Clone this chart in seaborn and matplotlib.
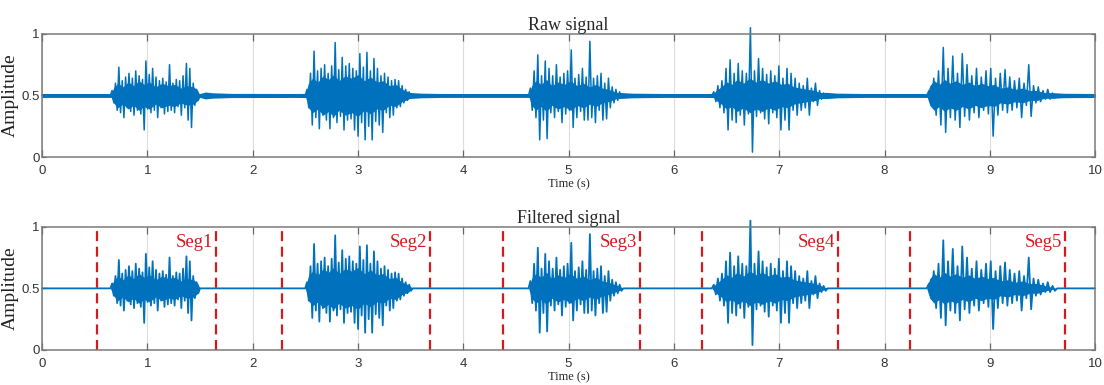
import numpy as np
import pandas as pd
import matplotlib
matplotlib.use("Agg")
import matplotlib.pyplot as plt
import seaborn as sns

# -------------- Data -----------------------------------------

baseline = 0.5

# burst windows in seconds
burst_start = [0.65, 2.50, 4.62, 6.36, 8.40]
burst_end = [1.50, 3.52, 5.52, 7.46, 9.64]

# signed deviations from the 0.5 baseline, left to right (the spikes)
burst1 = [0.04, -0.06, 0.10, -0.12, 0.23, -0.14, 0.12, -0.18, 0.15, -0.10, 0.18, -0.13, 0.14,
          -0.16, 0.20, -0.12, 0.16, -0.15, 0.13, -0.28, 0.28, -0.11, 0.17, -0.14, 0.22, -0.12,
          0.15, -0.18, 0.12, -0.10, 0.14, -0.15, 0.11, -0.13, 0.25, -0.12, 0.10, -0.14, 0.13,
          -0.09, 0.12, -0.16, 0.16, -0.10, 0.26, -0.20, 0.22, -0.26, 0.10, -0.08, 0.05, -0.04]
burst2 = [0.05, -0.10, 0.18, -0.24, 0.36, -0.18, 0.20, -0.27, 0.22, -0.16, 0.25, -0.20, 0.18,
          -0.27, 0.24, -0.18, 0.43, -0.22, 0.21, -0.17, 0.31, -0.28, 0.24, -0.20, 0.26, -0.19,
          0.22, -0.28, 0.20, -0.33, 0.34, -0.22, 0.23, -0.36, 0.35, -0.25, 0.20, -0.36, 0.30,
          -0.21, 0.22, -0.24, 0.16, -0.30, 0.18, -0.14, 0.15, -0.18, 0.12, -0.16, 0.13, -0.10,
          0.12, -0.09, 0.08, -0.06, 0.05, -0.04, 0.03, -0.02]
burst3 = [0.06, -0.12, 0.20, -0.18, 0.33, -0.36, 0.16, -0.20, 0.28, -0.35, 0.22, -0.14, 0.16,
          -0.18, 0.25, -0.13, 0.15, -0.22, 0.18, -0.15, 0.20, -0.12, 0.37, -0.26, 0.14, -0.18,
          0.17, -0.13, 0.22, -0.20, 0.15, -0.20, 0.44, -0.18, 0.14, -0.22, 0.16, -0.12, 0.18,
          -0.20, 0.10, -0.19, 0.14, -0.10, 0.07, -0.06, 0.05, -0.04, 0.03, -0.02]
burst4 = [0.03, -0.05, 0.08, -0.10, 0.12, -0.14, 0.22, -0.28, 0.29, -0.20, 0.18, -0.22, 0.26,
          -0.16, 0.20, -0.24, 0.18, -0.15, 0.55, -0.46, 0.20, -0.17, 0.30, -0.14, 0.22, -0.19,
          0.17, -0.23, 0.20, -0.14, 0.16, -0.18, 0.24, -0.28, 0.14, -0.20, 0.22, -0.28, 0.18,
          -0.12, 0.14, -0.16, 0.10, -0.12, 0.08, -0.10, 0.14, -0.16, 0.06, -0.05, 0.10, -0.08,
          0.04, -0.03, 0.02, -0.02]
burst5 = [0.04, -0.08, 0.14, -0.16, 0.20, -0.24, 0.39, -0.30, 0.22, -0.18, 0.32, -0.20, 0.18,
          -0.26, 0.34, -0.17, 0.25, -0.20, 0.16, -0.14, 0.22, -0.18, 0.15, -0.12, 0.20, -0.15,
          0.22, -0.33, 0.14, -0.16, 0.18, -0.12, 0.21, -0.14, 0.15, -0.12, 0.12, -0.10, 0.14,
          -0.18, 0.10, -0.08, 0.25, -0.17, 0.08, -0.06, 0.07, -0.05, 0.04, -0.03, 0.05, -0.03,
          0.02, -0.02]
bursts = [burst1, burst2, burst3, burst4, burst5]

# ragged dense core of each burst (half-width of the solid blob around 0.5)
core1_t = [0.65, 0.68, 0.72, 0.77, 0.82, 0.87, 0.92, 0.97, 1.02, 1.08, 1.14, 1.20, 1.26,
           1.32, 1.38, 1.44, 1.48, 1.50]
core1 = [0.0, 0.06, 0.10, 0.07, 0.11, 0.08, 0.12, 0.09, 0.11, 0.07, 0.10, 0.08, 0.09, 0.06,
         0.08, 0.07, 0.04, 0.0]
core2_t = [2.50, 2.53, 2.57, 2.62, 2.67, 2.72, 2.77, 2.82, 2.88, 2.94, 3.00, 3.06, 3.12,
           3.18, 3.24, 3.30, 3.36, 3.42, 3.48, 3.52]
core2 = [0.0, 0.10, 0.14, 0.11, 0.16, 0.13, 0.17, 0.12, 0.16, 0.14, 0.17, 0.12, 0.15, 0.11,
         0.12, 0.08, 0.09, 0.05, 0.03, 0.0]
core3_t = [4.62, 4.65, 4.69, 4.74, 4.79, 4.84, 4.90, 4.96, 5.02, 5.08, 5.14, 5.20, 5.26,
           5.32, 5.38, 5.44, 5.48, 5.52]
core3 = [0.0, 0.08, 0.12, 0.09, 0.13, 0.08, 0.11, 0.09, 0.12, 0.08, 0.10, 0.07, 0.09, 0.06,
         0.05, 0.03, 0.02, 0.0]
core4_t = [6.36, 6.40, 6.45, 6.50, 6.55, 6.60, 6.66, 6.72, 6.78, 6.84, 6.90, 6.96, 7.02,
           7.08, 7.14, 7.20, 7.27, 7.34, 7.40, 7.46]
core4 = [0.0, 0.04, 0.07, 0.11, 0.09, 0.13, 0.10, 0.14, 0.11, 0.13, 0.10, 0.12, 0.09, 0.10,
         0.07, 0.06, 0.05, 0.04, 0.02, 0.0]
core5_t = [8.40, 8.43, 8.47, 8.52, 8.57, 8.62, 8.68, 8.74, 8.80, 8.86, 8.92, 8.98, 9.04,
           9.10, 9.17, 9.24, 9.31, 9.38, 9.45, 9.53, 9.64]
core5 = [0.0, 0.08, 0.12, 0.09, 0.13, 0.10, 0.12, 0.09, 0.11, 0.08, 0.10, 0.08, 0.09, 0.06,
         0.07, 0.05, 0.06, 0.04, 0.04, 0.02, 0.0]
cores_t = [core1_t, core2_t, core3_t, core4_t, core5_t]
cores = [core1, core2, core3, core4, core5]

# background noise envelope of the raw recording
noise_t = [0.0, 0.6, 1.5, 1.55, 1.62, 1.8, 2.4, 3.5, 3.6, 3.8, 4.6, 5.5, 5.6, 5.9, 6.3,
           7.45, 7.55, 7.8, 8.4, 9.6, 9.7, 10.0]
noise_amp = [0.016, 0.016, 0.016, 0.028, 0.022, 0.017, 0.016, 0.024, 0.019, 0.016, 0.016,
             0.024, 0.019, 0.016, 0.016, 0.025, 0.019, 0.016, 0.016, 0.023, 0.018, 0.016]

# segmentation boundaries
seg_start = [0.52, 2.28, 4.38, 6.27, 8.24]
seg_end = [1.65, 3.68, 5.68, 7.56, 9.71]
seg_labels = ["Seg1", "Seg2", "Seg3", "Seg4", "Seg5"]

xticks = [0, 1, 2, 3, 4, 5, 6, 7, 8, 9, 10]
yticks = [0, 0.5, 1]
ytick_labels = ["0", "0.5", "1"]

# -------------- Build signal table ------------------

t_all = [0.0]
v_all = [baseline]
for s, e, b in zip(burst_start, burst_end, bursts):
    t_all += [s] + list(np.linspace(s, e, len(b) + 2)[1:-1]) + [e]
    v_all += [baseline] + [baseline + d for d in b] + [baseline]
t_all.append(10.0)
v_all.append(baseline)

sig = pd.DataFrame({"t": t_all, "amp": v_all})

# -------------- Style ------------------

sns.set_style("white")
plt.rcParams["font.family"] = ["Liberation Sans", "DejaVu Sans"]
serif = ["Liberation Serif", "DejaVu Serif"]
blue = "#0072BD"
red = "#D7191C"

fig = plt.figure(figsize=(11.04, 3.85), dpi=100)
ax_raw = fig.add_axes([0.038, 0.592, 0.954, 0.320])
ax_flt = fig.add_axes([0.038, 0.091, 0.954, 0.320])


def style_axes(ax, title):
    ax.set_xlim(0, 10)
    ax.set_ylim(0, 1)
    ax.set_xticks(xticks)
    ax.set_yticks(yticks)
    ax.set_yticklabels(ytick_labels)
    ax.grid(axis="x", color="#dcdcdc", lw=0.8)
    ax.grid(axis="y", visible=False)
    ax.set_axisbelow(True)
    ax.tick_params(axis="x", direction="in", top=True, bottom=True, length=5, width=0.9,
                   color="#666666", labelsize=9.5, labelcolor="#333333", pad=6)
    ax.tick_params(axis="y", direction="in", left=True, right=True, length=3, width=0.9,
                   color="#666666", labelsize=9.5, labelcolor="#333333", pad=1.5)
    for sp in ax.spines.values():
        sp.set_color("#7a7a7a")
        sp.set_linewidth(1.1)
    ax.set_title(title, family=serif, fontsize=13, pad=3)
    ax.set_xlabel("Time (s)", family=serif, fontsize=9, labelpad=0.5)
    ax.set_ylabel("Amplitude", family=serif, fontsize=14, color="#222222")
    ax.yaxis.set_label_coords(-0.022, 0.5)


def draw_signal(ax, lw):
    for ct, c in zip(cores_t, cores):
        ax.fill_between(ct, [baseline - a for a in c], [baseline + a for a in c],
                        color=blue, lw=0)
    sns.lineplot(data=sig, x="t", y="amp", ax=ax, color=blue, lw=lw,
                 estimator=None, sort=False, clip_on=False)


# -------------- Raw signal ------------------

ax_raw.fill_between(noise_t, [baseline - a for a in noise_amp],
                    [baseline + a for a in noise_amp], color=blue, lw=0)
draw_signal(ax_raw, 1.1)
style_axes(ax_raw, "Raw signal")

# -------------- Filtered signal ------------------

draw_signal(ax_flt, 1.3)
for s, e, lab in zip(seg_start, seg_end, seg_labels):
    ax_flt.axvline(s, color=red, lw=1.6, ls=(0, (4.5, 2.5)))
    ax_flt.axvline(e, color=red, lw=1.6, ls=(0, (4.5, 2.5)))
    ax_flt.text(e - 0.025, 0.87, lab, color=red, family=serif, fontsize=13.5,
                ha="right", va="center")
style_axes(ax_flt, "Filtered signal")

fig.savefig("out.png", dpi=100)
